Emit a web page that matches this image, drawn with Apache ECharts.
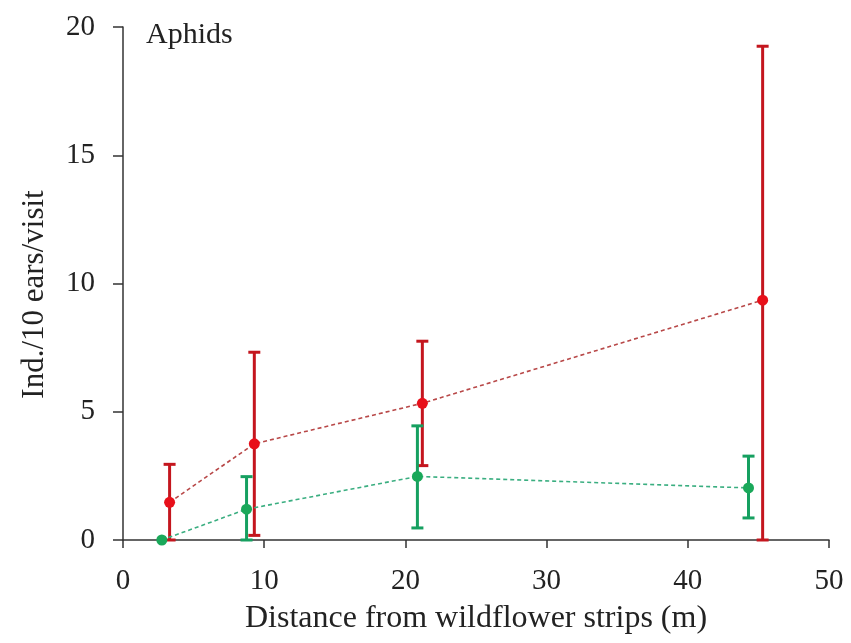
<!DOCTYPE html>
<html><head><meta charset="utf-8">
<script src="https://cdn.jsdelivr.net/npm/echarts@6/dist/echarts.min.js"></script>
<style>html,body{margin:0;padding:0;background:#fff}#c{width:851px;height:643px}</style>
</head><body><div id="c"></div>
<script>
const redX = [3.3, 9.3, 21.2, 45.3];
const redY = [1.47, 3.75, 5.33, 9.35];
const redLow = [0, 0.18, 2.9, 0];
const redHigh = [2.95, 7.32, 7.75, 19.25];
const greenX = [2.75, 8.75, 20.85, 44.3];
const greenY = [0, 1.2, 2.48, 2.03];
const greenLow = [0, 0, 0.47, 0.86];
const greenHigh = [0, 2.47, 4.45, 3.27];
const xTicks = [0, 10, 20, 30, 40, 50];
const yTicks = [0, 5, 10, 15, 20];

const FONT = '"Liberation Serif","Times New Roman",serif';
const chart = echarts.init(document.getElementById('c'));

function errSeries(xs, lo, hi, color) {
  return {
    type: 'custom', z: 2,
    data: xs.map((x, i) => [x, lo[i], hi[i]]),
    clip: false,
    renderItem: function (params, api) {
      const x = api.value(0);
      if (api.value(2) - api.value(1) <= 0) return;
      const p1 = api.coord([x, api.value(1)]);
      const p2 = api.coord([x, api.value(2)]);
      const w = 6;
      const st = { stroke: color, lineWidth: 3 };
      return { type: 'group', children: [
        { type: 'line', shape: { x1: p1[0], y1: p1[1], x2: p2[0], y2: p2[1] }, style: st },
        { type: 'line', shape: { x1: p2[0] - w, y1: p2[1], x2: p2[0] + w, y2: p2[1] }, style: st },
        { type: 'line', shape: { x1: p1[0] - w, y1: p1[1], x2: p1[0] + w, y2: p1[1] }, style: st }
      ]};
    }
  };
}

chart.setOption({
  animation: false,
  backgroundColor: '#fff',
  grid: { left: 123, right: 22, top: 27, bottom: 103 },
  xAxis: {
    type: 'value', min: 0, max: 50, interval: 10,
    name: 'Distance from wildflower strips (m)', nameLocation: 'middle', nameGap: 63,
    nameTextStyle: { fontFamily: FONT, fontSize: 32, color: '#222' },
    axisLine: { lineStyle: { color: '#333', width: 1.5 } },
    axisTick: { inside: false, length: 8, lineStyle: { color: '#333', width: 1.5 } },
    axisLabel: { fontFamily: FONT, fontSize: 29, color: '#222', margin: 27 },
    splitLine: { show: false }
  },
  yAxis: {
    type: 'value', min: 0, max: 20, interval: 5,
    name: 'Ind./10 ears/visit', nameLocation: 'middle', nameGap: 73,
    nameTextStyle: { fontFamily: FONT, fontSize: 31, color: '#222', padding: [0, 22, 0, 0] },
    axisLine: { show: true, lineStyle: { color: '#333', width: 1.5 } },
    axisTick: { show: true, length: 10, lineStyle: { color: '#333', width: 1.5 } },
    axisLabel: { fontFamily: FONT, fontSize: 29, color: '#222', margin: 28 },
    splitLine: { show: false }
  },
  graphic: [{
    type: 'text', left: 146, top: 20,
    style: { text: 'Aphids', font: '30px ' + FONT, fill: '#222' }
  }],
  series: [
    errSeries(redX, redLow, redHigh, '#c4161e'),
    errSeries(greenX, greenLow, greenHigh, '#16a060'),
    {
      type: 'line', z: 3, clip: false,
      data: redX.map((x, i) => [x, redY[i]]),
      symbol: 'circle', symbolSize: 11,
      itemStyle: { color: '#e8101a' },
      lineStyle: { color: '#b84848', width: 1.6, type: [4, 3] }
    },
    {
      type: 'line', z: 3, clip: false,
      data: greenX.map((x, i) => [x, greenY[i]]),
      symbol: 'circle', symbolSize: 11,
      itemStyle: { color: '#1aa85a' },
      lineStyle: { color: '#3aae80', width: 1.6, type: [4, 3] }
    }
  ]
});
</script></body></html>
